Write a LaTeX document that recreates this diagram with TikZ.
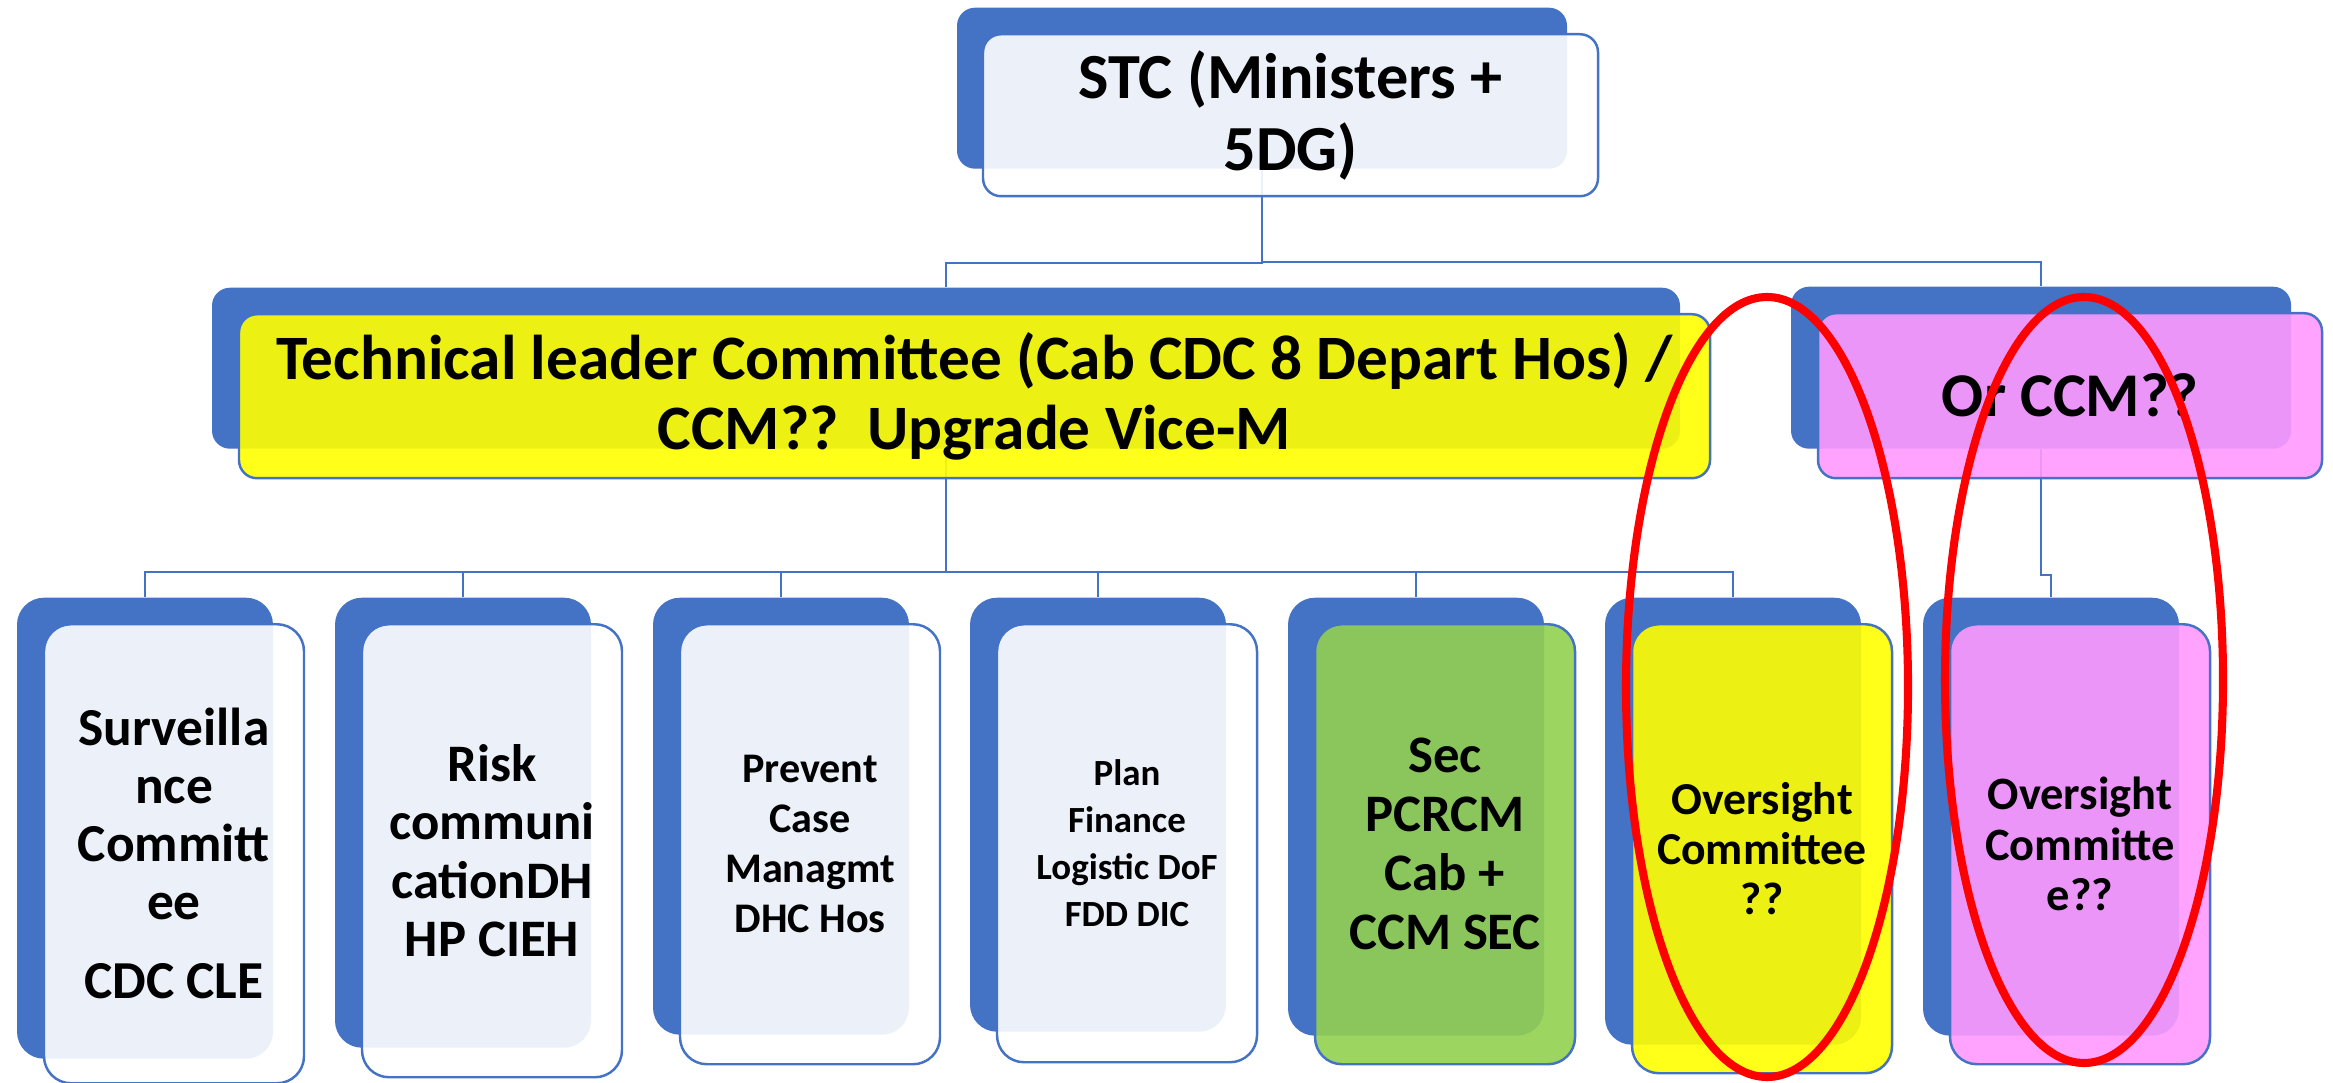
\documentclass[tikz,border=0pt]{standalone}
\usepackage{fontspec}
\setmainfont{Carlito}
\usepackage{xcolor}
\usepackage{tikz}
\usetikzlibrary{positioning}
\definecolor{orgblue}{HTML}{4472C4}
\definecolor{orgyellow}{HTML}{FFFF00}
\definecolor{orgpink}{HTML}{FF99FF}
\definecolor{orggreen}{HTML}{92D050}
\tikzset{
    backbox/.style={
        fill=orgblue,
        rounded corners=0.18cm,
        inner sep=0pt,
        anchor=north
    },
    frontbox/.style={
        draw=orgblue,
        line width=0.7pt,
        fill opacity=0.9,
        text opacity=1,
        rounded corners=0.18cm,
        inner sep=0pt,
        anchor=north,
        align=center
    },
    childback/.style={backbox, rounded corners=0.27cm, minimum width=2.56cm},
    childfront/.style={frontbox, rounded corners=0.27cm, minimum width=2.60cm},
    link/.style={draw=orgblue, line width=0.6pt},
    ringmark/.style={draw=red, line width=2.3pt}
}

\begin{document}
\begin{tikzpicture}
\useasboundingbox (0,0) rectangle (23.33,-10.83);

% back boxes
\node[backbox, minimum width=6.10cm, minimum height=1.61cm] (stc) at (12.62,-0.07) {};
\node[backbox, minimum width=14.68cm, minimum height=1.61cm] (tlc) at (9.46,-2.87) {};
\node[backbox, minimum width=5.00cm, minimum height=1.62cm] (ccm) at (20.41,-2.86) {};
\foreach \n/\x/\h in {c1/1.45/4.61, c2/4.63/4.50, c3/7.81/4.37, c4/10.98/4.34,
                      c5/14.16/4.38, c6/17.33/4.47, c7/20.51/4.38}
    \node[childback, minimum height=\h cm] (\n) at (\x,-5.97) {};

% connectors
\draw[link] (tlc.north) -- ++(0,0.24) -| (stc.south);
\draw[link] (ccm.north) -- ++(0,0.24) -| (stc.south);
\foreach \n in {c1,c2,c3,c4,c5,c6}
    \draw[link] (\n.north) -- ++(0,0.25) -| (tlc.south);
\draw[link] (c7.north) -- ++(0,0.22) -| (ccm.south);

% front boxes
\node[frontbox, fill=white, minimum width=6.15cm, minimum height=1.62cm,
      font=\fontsize{18.3}{20.5}\selectfont\bfseries] (stcf) at ([shift={(0.285,-0.26)}]stc.north)
      {STC (Ministers +\\5DG)};
\node[frontbox, fill=orgyellow, minimum width=14.71cm, minimum height=1.64cm,
      font=\fontsize{18}{20}\selectfont\bfseries] (tlcf) at ([shift={(0.285,-0.26)}]tlc.north)
      {Technical leader Committee (Cab CDC 8 Depart Hos) /\\CCM??\ \ Upgrade Vice-M};
\node[frontbox, fill=orgpink, minimum width=5.04cm, minimum height=1.65cm,
      font=\fontsize{17.7}{20}\selectfont\bfseries] (ccmf) at ([shift={(0.29,-0.26)}]ccm.north)
      {Or CCM??};

\node[childfront, fill=white, minimum height=4.59cm, font=\fontsize{15.2}{16.5}\selectfont\bfseries]
    (c1f) at ([shift={(0.29,-0.26)}]c1.north) {Surveilla\\nce\\Committ\\ee\\[6pt]CDC CLE};
\node[childfront, fill=white, minimum height=4.53cm, font=\fontsize{15}{16.6}\selectfont\bfseries]
    (c2f) at ([shift={(0.29,-0.26)}]c2.north) {Risk\\communi\\cationDH\\HP CIEH};
\node[childfront, fill=white, minimum height=4.40cm, font=\fontsize{12}{14.2}\selectfont\bfseries]
    (c3f) at ([shift={(0.29,-0.26)}]c3.north) {Prevent\\Case\\Managmt\\DHC Hos};
\node[childfront, fill=white, minimum height=4.38cm, font=\fontsize{10.5}{13.4}\selectfont\bfseries]
    (c4f) at ([shift={(0.29,-0.26)}]c4.north) {Plan\\Finance\\Logistic DoF\\FDD DIC};
\node[childfront, fill=orggreen, minimum height=4.40cm, font=\fontsize{15}{16.8}\selectfont\bfseries]
    (c5f) at ([shift={(0.29,-0.26)}]c5.north) {Sec\\PCRCM\\Cab +\\CCM SEC};
\node[childfront, fill=orgyellow, minimum height=4.49cm, font=\fontsize{13}{14.2}\selectfont\bfseries]
    (c6f) at ([shift={(0.29,-0.26)}]c6.north) {Oversight\\Committee\\??};
\node[childfront, fill=orgpink, minimum height=4.40cm, font=\fontsize{13.2}{14.4}\selectfont\bfseries]
    (c7f) at ([shift={(0.29,-0.26)}]c7.north) {Oversight\\Committe\\e??};

% red rings
\draw[ringmark] (17.67,-6.87) ellipse (1.41 and 3.90);
\draw[ringmark] (20.84,-6.80) ellipse (1.39 and 3.83);
\end{tikzpicture}
\end{document}
